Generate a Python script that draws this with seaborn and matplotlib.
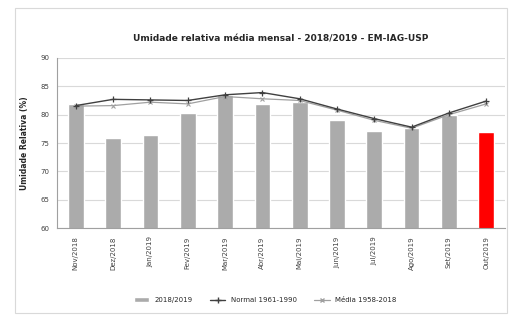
import matplotlib
matplotlib.use("Agg")
import matplotlib.pyplot as plt
from matplotlib.lines import Line2D
from matplotlib.patches import Patch, Rectangle
import numpy as np
import pandas as pd
import seaborn as sns

months = ["Nov/2018", "Dez/2018", "Jan/2019", "Fev/2019", "Mar/2019", "Abr/2019",
          "Mai/2019", "Jun/2019", "Jul/2019", "Ago/2019", "Set/2019", "Out/2019"]
obs_2018_2019 = [81.9, 75.9, 76.4, 80.3, 83.5, 81.9, 82.2, 79.1, 77.2, 77.7, 80.0, 77.0]
normal_1961_1990 = [81.6, 82.7, 82.6, 82.5, 83.5, 83.9, 82.8, 81.0, 79.3, 77.8, 80.3, 82.4]
media_1958_2018 = [81.5, 81.6, 82.2, 81.9, 83.2, 82.8, 82.5, 80.8, 79.0, 77.6, 80.0, 81.9]

bar_colors = ["#ababab"] * 11 + ["#ff0000"]

sns.set_style("white")
plt.rcParams["font.family"] = ["DejaVu Sans"]

df = pd.DataFrame({"mes": months, "ur": obs_2018_2019})

fig = plt.figure(figsize=(5.1, 3.15), dpi=100)
ax = fig.add_axes([0.112, 0.276, 0.878, 0.54])

# -----------------------------
# Bars + lines
# -----------------------------
sns.barplot(data=df, x="mes", y="ur", hue="mes", palette=bar_colors,
            saturation=1, width=0.42, legend=False, ax=ax, zorder=2)

xpos = np.arange(len(months))
ax.plot(xpos, normal_1961_1990, color="#404040", lw=1.0, marker="+",
        ms=4, mew=0.9, zorder=4)
ax.plot(xpos, media_1958_2018, color="#a0a0a0", lw=0.9, marker="x",
        ms=3, mew=0.8, zorder=3)

ax.set_ylim(60, 90)
ax.set_yticks(range(60, 91, 5))
ax.set_xlim(-0.5, len(months) - 0.5)
ax.yaxis.grid(True, color="#d9d9d9", lw=0.8, zorder=0)
ax.set_axisbelow(True)

for s in ["top", "right"]:
    ax.spines[s].set_visible(False)
for s in ["left", "bottom"]:
    ax.spines[s].set_color("#a0a0a0")
    ax.spines[s].set_linewidth(0.8)

ax.set_xticks(xpos)
ax.set_xticklabels(months, rotation=90, fontsize=5, color="#404040")
ax.tick_params(axis="x", length=0, pad=6)
ax.tick_params(axis="y", labelsize=5, colors="#404040", length=2)
ax.set_xlabel("")
ax.set_ylabel("Umidade Relativa (%)", fontsize=5.5, fontweight="bold", labelpad=8)

ax.set_title("Umidade relativa média mensal - 2018/2019 - EM-IAG-USP",
             fontsize=6.5, fontweight="bold", pad=12)

handles = [
    Patch(facecolor="#ababab", label="2018/2019"),
    Line2D([], [], color="#404040", lw=1.0, marker="+", ms=4, label="Normal 1961-1990"),
    Line2D([], [], color="#a0a0a0", lw=0.9, marker="x", ms=3, label="Média 1958-2018"),
]
fig.legend(handles=handles, loc="center", bbox_to_anchor=(0.52, 0.047), ncol=3,
           frameon=False, fontsize=5, handlelength=2.2, columnspacing=2.5)

fig.patches.append(Rectangle((0.03, 0.005), 0.965, 0.97, transform=fig.transFigure,
                             fill=False, edgecolor="#d9d9d9", lw=0.8))

fig.savefig("out.png", dpi=100)
